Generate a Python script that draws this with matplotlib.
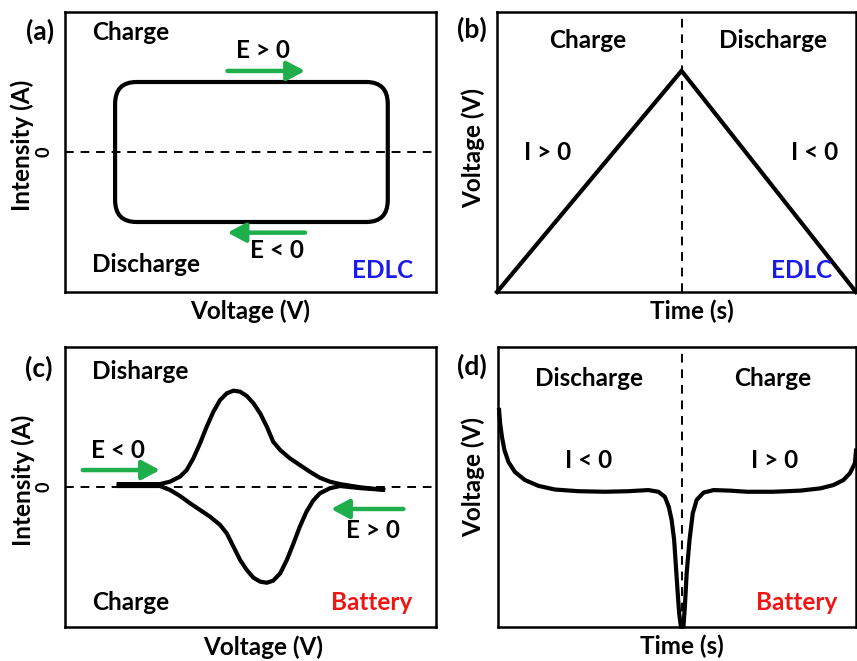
import numpy as np
import matplotlib
matplotlib.use("Agg")
import matplotlib.pyplot as plt
from matplotlib.path import Path
from matplotlib.patches import PathPatch

plt.rcParams['font.family'] = ['Lato', 'DejaVu Sans']
plt.rcParams['font.weight'] = 'bold'

W, H = 857, 661

# (a) EDLC cyclic voltammogram: rounded rectangle
edlc_v = [0.135, 0.870]      # left / right voltage of the loop
edlc_i = [-0.50, 0.50]       # charge / discharge plateau
edlc_corner = [0.058, 0.157]

# (b) EDLC galvanostatic charge / discharge
gcd_t = [0.0, 0.514, 1.0]
gcd_v = [0.0, 0.79, 0.0]

# (c) battery cyclic voltammogram, anodic and cathodic branches
bat_up_v = [0.139, 0.256, 0.283, 0.310, 0.328, 0.346, 0.364, 0.382, 0.400, 0.418,
            0.436, 0.454, 0.472, 0.490, 0.508, 0.526, 0.544, 0.561, 0.580, 0.606,
            0.633, 0.660, 0.687, 0.714, 0.741, 0.795, 0.863]
bat_up_i = [0.021, 0.021, 0.038, 0.074, 0.121, 0.205, 0.312, 0.431, 0.538, 0.621,
            0.669, 0.688, 0.681, 0.650, 0.598, 0.526, 0.431, 0.324, 0.264, 0.205,
            0.157, 0.109, 0.066, 0.038, 0.021, -0.002, -0.021]
bat_dn_v = [0.139, 0.256, 0.283, 0.310, 0.337, 0.364, 0.391, 0.418, 0.436, 0.454,
            0.472, 0.490, 0.508, 0.526, 0.544, 0.561, 0.580, 0.598, 0.616, 0.633,
            0.651, 0.669, 0.687, 0.714, 0.741, 0.795, 0.863]
bat_dn_i = [0.007, 0.007, -0.021, -0.064, -0.116, -0.164, -0.212, -0.271, -0.331, -0.426,
            -0.521, -0.593, -0.648, -0.676, -0.684, -0.669, -0.617, -0.521, -0.402, -0.283,
            -0.176, -0.097, -0.045, -0.009, 0.007, -0.008, -0.021]

# (d) battery discharge / charge profile
bat_t = [0.003, 0.006, 0.011, 0.018, 0.029, 0.047, 0.075, 0.113, 0.159, 0.224,
         0.299, 0.364, 0.420, 0.448, 0.466, 0.477, 0.485, 0.492, 0.497, 0.502,
         0.506, 0.511, 0.514, 0.518, 0.522, 0.527, 0.535, 0.544, 0.555, 0.574,
         0.602, 0.648, 0.695, 0.769, 0.844, 0.900, 0.937, 0.965, 0.983, 0.997,
         1.0]
bat_v = [0.775, 0.726, 0.679, 0.632, 0.590, 0.554, 0.525, 0.504, 0.491, 0.485,
         0.483, 0.485, 0.489, 0.483, 0.465, 0.429, 0.382, 0.311, 0.216, 0.121,
         0.049, 0.001, 0.0, 0.001, 0.073, 0.192, 0.311, 0.406, 0.454, 0.480,
         0.489, 0.487, 0.483, 0.483, 0.487, 0.495, 0.507, 0.525, 0.549, 0.585,
         0.63]

green = '#1fae4c'
blue = '#1a1aeb'
red = '#f01515'
lw_curve = 3.0
fs = 17.5

fig = plt.figure(figsize=(W / 100, H / 100), dpi=100)


def px_ax(l, t, r, b):
    return fig.add_axes([l / W, 1 - b / H, (r - l) / W, (b - t) / H])


def txt(x, y, s, ha='center', **kw):
    fig.text(x / W, 1 - y / H, s, ha=ha, va='center', fontsize=kw.pop('size', fs),
             fontweight='bold', **kw)


def style(ax, zero_tick):
    for sp in ax.spines.values():
        sp.set_linewidth(1.8)
    ax.set_xticks([])
    if zero_tick:
        ax.set_yticks([0])
        ax.set_yticklabels(['0'], rotation=90, va='center', fontsize=13, fontweight='bold')
        ax.tick_params(axis='y', length=0, pad=9)
    else:
        ax.set_yticks([])


def arrow(ax, x0, x1, y):
    ax.annotate('', xy=(x1, y), xytext=(x0, y),
                arrowprops=dict(arrowstyle='-|>,head_length=0.6,head_width=0.32',
                                lw=3.2, color=green, mutation_scale=18,
                                shrinkA=0, shrinkB=0))


def dashed(ax, **kw):
    return dict(color='k', lw=1.4, ls=(0, (4.5, 3.5)), **kw)


# ---- (a) ----
ax1 = px_ax(65, 12, 436, 292)
ax1.set_xlim(0, 1)
ax1.set_ylim(-1, 1)
style(ax1, True)
ax1.axhline(0, **dashed(ax1))
x0, x1 = edlc_v
y0, y1 = edlc_i
rx, ry = edlc_corner
verts = [(x0 + rx, y1), (x1 - rx, y1), (x1, y1), (x1, y1 - ry),
         (x1, y0 + ry), (x1, y0), (x1 - rx, y0),
         (x0 + rx, y0), (x0, y0), (x0, y0 + ry),
         (x0, y1 - ry), (x0, y1), (x0 + rx, y1)]
codes = [Path.MOVETO, Path.LINETO, Path.CURVE3, Path.CURVE3,
         Path.LINETO, Path.CURVE3, Path.CURVE3,
         Path.LINETO, Path.CURVE3, Path.CURVE3,
         Path.LINETO, Path.CURVE3, Path.CURVE3]
ax1.add_patch(PathPatch(Path(verts, codes), fill=False, lw=lw_curve, ec='k',
                        joinstyle='round'))
arrow(ax1, 0.438, 0.647, 0.579)
arrow(ax1, 0.647, 0.438, -0.576)

txt(40, 31, '(a)', size=19)
txt(92, 33, 'Charge', ha='left')
txt(263, 51, 'E > 0')
txt(277, 251, 'E < 0')
txt(92, 265, 'Discharge', ha='left')
txt(413, 270, 'EDLC', ha='right', color=blue)
txt(250, 311, 'Voltage (V)')
txt(22, 145, 'Intensity (A)', rotation=90)

# ---- (b) ----
ax2 = px_ax(497, 12, 856, 292)
ax2.set_xlim(0, 1)
ax2.set_ylim(0, 1)
style(ax2, False)
ax2.axvline(gcd_t[1], **dashed(ax2))
ax2.plot(gcd_t, gcd_v, color='k', lw=lw_curve, clip_on=False, solid_joinstyle='miter')

txt(472, 29, '(b)', size=19)
txt(588, 40, 'Charge')
txt(773, 40, 'Discharge')
txt(548, 153, 'I > 0')
txt(815, 153, 'I < 0')
txt(832, 270, 'EDLC', ha='right', color=blue)
txt(692, 311, 'Time (s)')
txt(473, 148, 'Voltage (V)', rotation=90)

# ---- (c) ----
ax3 = px_ax(65, 347, 436, 627)
ax3.set_xlim(0, 1)
ax3.set_ylim(-1, 1)
style(ax3, True)
ax3.axhline(0, **dashed(ax3))
ax3.plot(bat_up_v, bat_up_i, color='k', lw=lw_curve, solid_joinstyle='round',
         solid_capstyle='butt')
ax3.plot(bat_dn_v, bat_dn_i, color='k', lw=lw_curve, solid_joinstyle='round',
         solid_capstyle='butt')
arrow(ax3, 0.048, 0.256, 0.121)
arrow(ax3, 0.912, 0.717, -0.157)

txt(39, 368, '(c)', size=19)
txt(92, 371, 'Disharge', ha='left')
txt(118, 450, 'E < 0')
txt(373, 530, 'E > 0')
txt(92, 602, 'Charge', ha='left')
txt(412, 602, 'Battery', ha='right', color=red)
txt(263, 647, 'Voltage (V)')
txt(23, 480, 'Intensity (A)', rotation=90)

# ---- (d) ----
ax4 = px_ax(498, 347, 856, 627)
ax4.set_xlim(0, 1)
ax4.set_ylim(0, 1)
style(ax4, False)
ax4.axvline(0.513, **dashed(ax4))
ax4.plot(bat_t, bat_v, color='k', lw=lw_curve, clip_on=False, solid_joinstyle='round')

txt(472, 366, '(d)', size=19)
txt(589, 378, 'Discharge')
txt(773, 378, 'Charge')
txt(589, 460, 'I < 0')
txt(775, 460, 'I > 0')
txt(837, 602, 'Battery', ha='right', color=red)
txt(682, 646, 'Time (s)')
txt(473, 477, 'Voltage (V)', rotation=90)

fig.savefig('out.png', dpi=100)
